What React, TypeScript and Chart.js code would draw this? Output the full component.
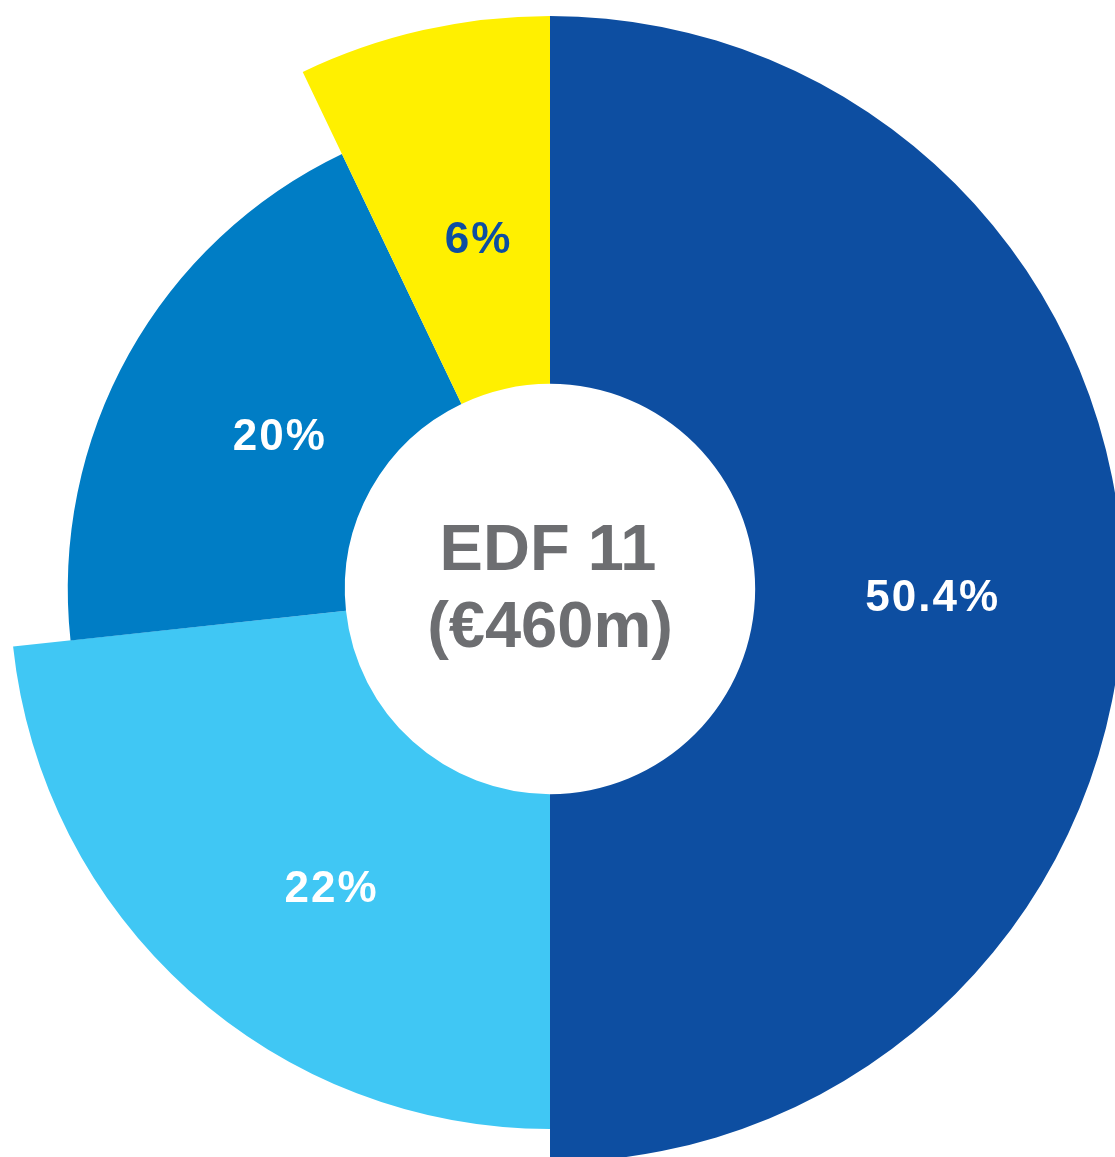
import { useEffect, useRef } from "react";
import { Chart, registerables } from "chart.js";

Chart.register(...registerables);

// Displayed percentage labels
const sliceLabels = ["50.4%", "22%", "20%", "6%"];
// Angular share of each slice as drawn
const sliceValues = [50, 23.3, 19.6, 7.1];
// Relative ring depth of each slice (1 = deepest)
const sliceReach = [1.0, 0.91, 0.753, 1.0];
const sliceColors = ["#0d4ea1", "#40c7f4", "#007dc5", "#fff000"];
const labelColors = ["#ffffff", "#ffffff", "#ffffff", "#0d4ea1"];
const centerLines = ["EDF 11", "(€460m)"];

// label placement styling (fraction along ring depth / along arc)
const labelRadialFrac = [0.48, 0.5, 0.38, 0.41];
const labelAngularFrac = [0.508, 0.43, 0.5, 0.54];

const FONT = '"Liberation Sans", Arial, Helvetica, sans-serif';

const reachPlugin = {
  id: "reachPlugin",
  beforeDatasetsDraw(chart: any) {
    const meta = chart.getDatasetMeta(0);
    const ctrl: any = meta.controller;
    const inner = ctrl.innerRadius;
    const outer = ctrl.outerRadius;
    meta.data.forEach((arc: any, i: number) => {
      arc.outerRadius = inner + (outer - inner) * sliceReach[i];
    });
  },
};

const labelPlugin = {
  id: "labelPlugin",
  afterDatasetsDraw(chart: any) {
    const ctx = chart.ctx;
    const meta = chart.getDatasetMeta(0);
    ctx.save();
    ctx.textAlign = "center";
    ctx.textBaseline = "middle";
    ctx.font = `bold 44px ${FONT}`;
    try {
      (ctx as any).letterSpacing = "2px";
    } catch (e) {}
    meta.data.forEach((arc: any, i: number) => {
      const mid = arc.startAngle + (arc.endAngle - arc.startAngle) * labelAngularFrac[i];
      const r = arc.innerRadius + (arc.outerRadius - arc.innerRadius) * labelRadialFrac[i];
      const x = arc.x + Math.cos(mid) * r;
      const y = arc.y + Math.sin(mid) * r;
      ctx.fillStyle = labelColors[i];
      ctx.fillText(sliceLabels[i], x + 1, y);
    });
    const first: any = meta.data[0];
    if (first) {
      ctx.fillStyle = "#6d6e71";
      ctx.textBaseline = "alphabetic";
      ctx.font = `bold 65px ${FONT}`;
      try {
        (ctx as any).letterSpacing = "0px";
      } catch (e) {}
      ctx.fillText(centerLines[0], first.x - 2, first.y - 19);
      ctx.fillText(centerLines[1], first.x, first.y + 58);
    }
    ctx.restore();
  },
};

export default function App() {
  const canvasRef = useRef<HTMLCanvasElement | null>(null);

  useEffect(() => {
    if (!canvasRef.current) return;
    const chart = new Chart(canvasRef.current, {
      type: "doughnut",
      data: {
        labels: sliceLabels,
        datasets: [
          {
            data: sliceValues,
            backgroundColor: sliceColors,
            borderWidth: 0,
          },
        ],
      },
      options: {
        responsive: false,
        animation: false,
        events: [],
        radius: "104.2%",
        cutout: "35.8%",
        layout: { padding: { left: 0, right: 15, top: 21, bottom: 0 } },
        plugins: {
          legend: { display: false },
          tooltip: { enabled: false },
        },
      },
      plugins: [reachPlugin, labelPlugin],
    });
    return () => chart.destroy();
  }, []);

  return (
    <div style={{ position: "absolute", left: 0, top: 0, width: 1115, height: 1157, overflow: "hidden", background: "#ffffff" }}>
      <canvas ref={canvasRef} width={1115} height={1157} style={{ display: "block" }} />
    </div>
  );
}
